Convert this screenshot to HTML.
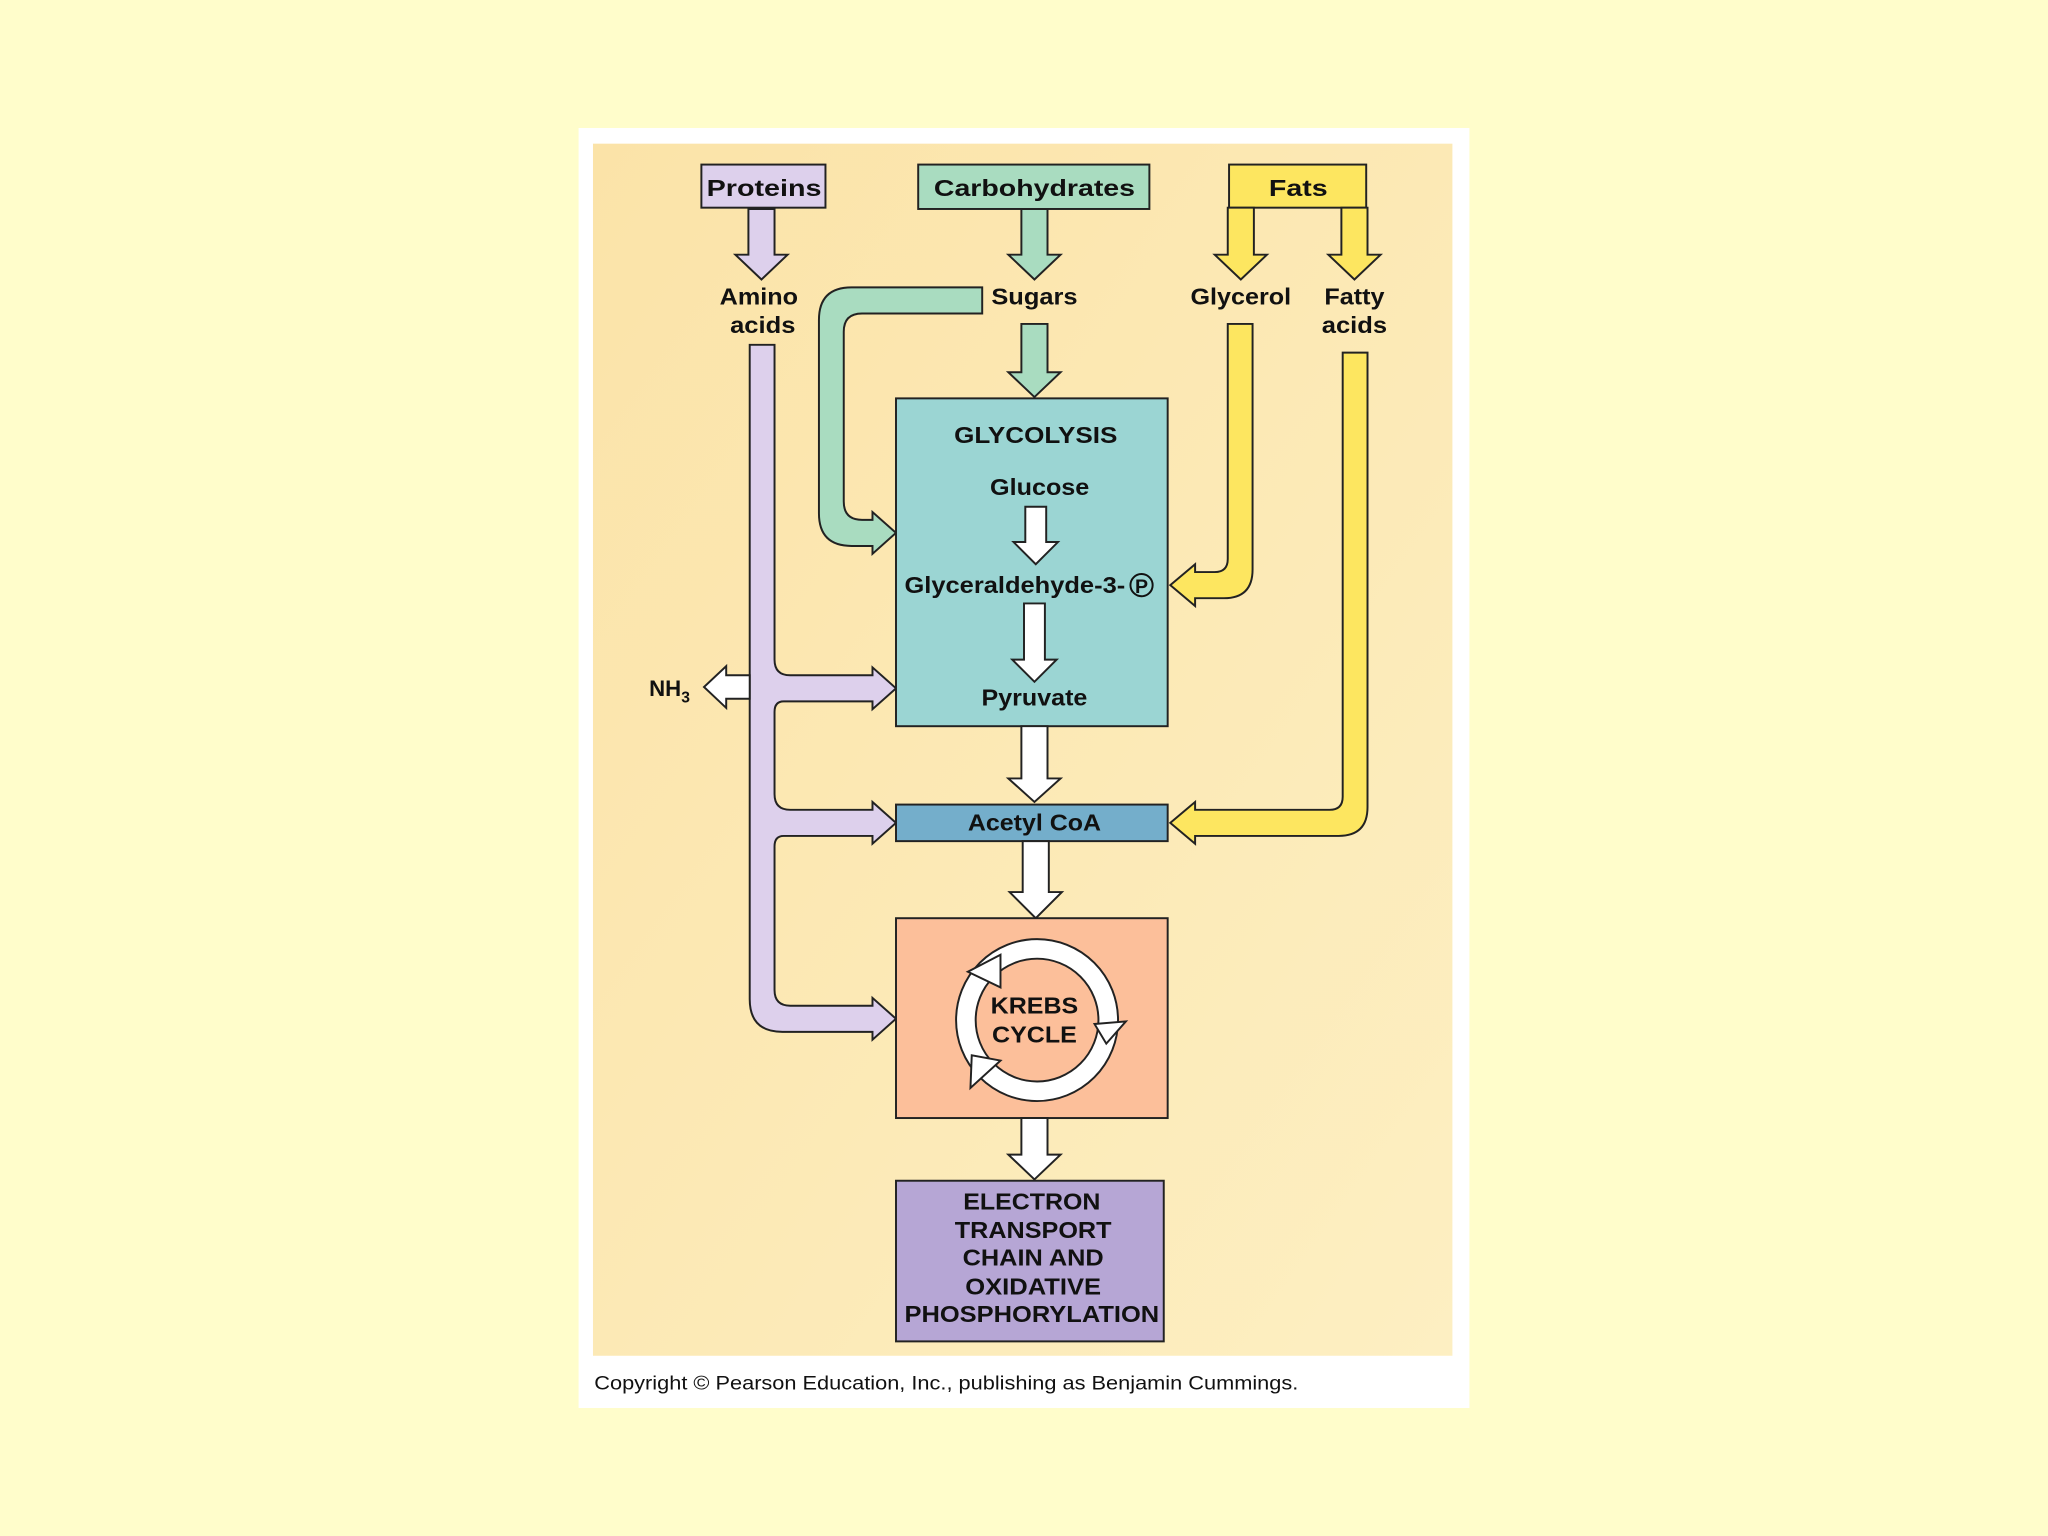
<!DOCTYPE html>
<html><head><meta charset="utf-8"><style>
html,body{margin:0;padding:0;background:#fffdcb;}
svg{display:block;}
text{font-family:"Liberation Sans",Arial,sans-serif;font-weight:bold;fill:#111;}
</style></head><body>
<svg width="2048" height="1536" viewBox="0 0 1568 1176" xmlns="http://www.w3.org/2000/svg">
<defs>
<linearGradient id="tan" x1="0" y1="0" x2="1" y2="1">
<stop offset="0" stop-color="#fbe3a8"/><stop offset="1" stop-color="#fdefc2"/>
</linearGradient>
</defs>
<rect width="1568" height="1176" fill="#fffdcb"/>
<rect x="443" y="98" width="682" height="980" fill="#ffffff"/>
<rect x="454" y="110" width="658" height="928" fill="url(#tan)"/>

<g stroke="#222" stroke-width="1.5" stroke-linejoin="miter">
<!-- source boxes -->
<rect x="537" y="126" width="95" height="33" fill="#ddd0ec"/>
<rect x="703" y="126" width="177" height="34" fill="#a9dcc0"/>
<rect x="941" y="126" width="105" height="33" fill="#fde660"/>

<!-- down arrows from sources -->
<path d="M573 160 L573 195 L563 195 L583 214 L603 195 L593 195 L593 160 Z" fill="#ddd0ec"/>
<path d="M782 160 L782 195 L772 195 L792 214 L812 195 L802 195 L802 160 Z" fill="#a9dcc0"/>
<path d="M940 159 L940 195 L930 195 L950 214 L970 195 L960 195 L960 159 Z" fill="#fde660"/>
<path d="M1027 159 L1027 195 L1017 195 L1037 214 L1057 195 L1047 195 L1047 159 Z" fill="#fde660"/>
<path d="M782 248 L782 285 L772 285 L792 304 L812 285 L802 285 L802 248 Z" fill="#a9dcc0"/>

<!-- green bent arrow -->
<path d="M752 220 L652 220 Q627 220 627 245 L627 393 Q627 418 652 418 L668 418 L668 424 L686 408 L668 392 L668 398 L660 398 Q646 398 646 384 L646 254 Q646 240 660 240 L752 240 Z" fill="#a9dcc0"/>

<!-- glycerol arrow -->
<path d="M940 248 L940 428 Q940 438 930 438 L915 438 L915 432 L896 448 L915 464 L915 458 L937 458 Q959 458 959 436 L959 248 Z" fill="#fde660"/>
<!-- fatty acids arrow -->
<path d="M1028 270 L1028 610 Q1028 620 1018 620 L915 620 L915 614 L896 630 L915 646 L915 640 L1025 640 Q1047 640 1047 618 L1047 270 Z" fill="#fde660"/>

<!-- purple amino acids arrow -->
<path d="M574 264 L593 264 L593 505 Q593 517 605 517 L668 517 L668 511 L686 527 L668 543 L668 537 L600 537 Q593 537 593 545 L593 608 Q593 620 605 620 L668 620 L668 614 L686 630 L668 646 L668 640 L600 640 Q593 640 593 648 L593 758 Q593 770 605 770 L668 770 L668 764 L686 780 L668 796 L668 790 L599 790 Q574 790 574 765 Z" fill="#ddd0ec"/>
<!-- NH3 arrow -->
<path d="M574 517 L556 517 L556 510 L539 526 L556 542 L556 535 L574 535 Z" fill="#ffffff"/>

<!-- glycolysis box -->
<rect x="686" y="305" width="208" height="251" fill="#9bd5d3"/>
<path d="M785 388 L785 415 L776 415 L793 432 L810 415 L801 415 L801 388 Z" fill="#ffffff"/>
<path d="M784 462 L784 505 L775 505 L792 522 L809 505 L800 505 L800 462 Z" fill="#ffffff"/>

<!-- pyruvate to acetyl -->
<path d="M782 556 L782 596 L772 596 L792 614 L812 596 L802 596 L802 556 Z" fill="#ffffff"/>
<rect x="686" y="616" width="208" height="28" fill="#74aecb"/>
<path d="M783 644 L783 683 L773 683 L793 703 L813 683 L803 683 L803 644 Z" fill="#ffffff"/>

<!-- krebs -->
<rect x="686" y="703" width="208" height="153" fill="#fcbf9a"/>
<circle cx="794" cy="781" r="62" fill="#ffffff"/>
<circle cx="794" cy="781" r="47" fill="#fcbf9a"/>
<path d="M741 744 L766 731 L766 756 Z" fill="#ffffff"/>
<path d="M838 784 L862 782 L847 799 Z" fill="#ffffff"/>
<path d="M743 833 L744 808 L766 812 Z" fill="#ffffff"/>

<path d="M782 856 L782 884 L772 884 L792 903 L812 884 L802 884 L802 856 Z" fill="#ffffff"/>
<rect x="686" y="904" width="205" height="123" fill="#b6a6d5"/>
</g>

<!-- labels -->
<g font-size="18" text-anchor="middle">
<text x="585" y="150" textLength="88" lengthAdjust="spacingAndGlyphs">Proteins</text>
<text x="792" y="150" textLength="154" lengthAdjust="spacingAndGlyphs">Carbohydrates</text>
<text x="994" y="150" textLength="45" lengthAdjust="spacingAndGlyphs">Fats</text>
<text x="581" y="233" textLength="60" lengthAdjust="spacingAndGlyphs">Amino</text>
<text x="584" y="255" textLength="50" lengthAdjust="spacingAndGlyphs">acids</text>
<text x="792" y="233" textLength="66" lengthAdjust="spacingAndGlyphs">Sugars</text>
<text x="950" y="233" textLength="77" lengthAdjust="spacingAndGlyphs">Glycerol</text>
<text x="1037" y="233" textLength="46" lengthAdjust="spacingAndGlyphs">Fatty</text>
<text x="1037" y="255" textLength="50" lengthAdjust="spacingAndGlyphs">acids</text>
<text x="793" y="339" textLength="125" lengthAdjust="spacingAndGlyphs">GLYCOLYSIS</text>
<text x="796" y="379" textLength="76" lengthAdjust="spacingAndGlyphs">Glucose</text>
<text x="777" y="454" textLength="169" lengthAdjust="spacingAndGlyphs">Glyceraldehyde-3-</text>
<text x="874" y="454" font-size="15">P</text>
<text x="792" y="540" textLength="81" lengthAdjust="spacingAndGlyphs">Pyruvate</text>
<text x="792" y="636" textLength="102" lengthAdjust="spacingAndGlyphs">Acetyl CoA</text>
<text x="792" y="776" textLength="67" lengthAdjust="spacingAndGlyphs">KREBS</text>
<text x="792" y="798" textLength="65" lengthAdjust="spacingAndGlyphs">CYCLE</text>
<text x="790" y="926" textLength="105" lengthAdjust="spacingAndGlyphs">ELECTRON</text>
<text x="791" y="948" textLength="120" lengthAdjust="spacingAndGlyphs">TRANSPORT</text>
<text x="791" y="969" textLength="108" lengthAdjust="spacingAndGlyphs">CHAIN AND</text>
<text x="791" y="991" textLength="104" lengthAdjust="spacingAndGlyphs">OXIDATIVE</text>
<text x="790" y="1012" textLength="195" lengthAdjust="spacingAndGlyphs">PHOSPHORYLATION</text>
</g>
<circle cx="874" cy="448" r="8.5" fill="none" stroke="#111" stroke-width="1.5"/>
<text x="497" y="533" font-size="17">NH<tspan font-size="12" dy="5">3</tspan></text>
<text x="455" y="1064" font-size="15" font-weight="normal" style="font-weight:normal" textLength="539" lengthAdjust="spacingAndGlyphs">Copyright © Pearson Education, Inc., publishing as Benjamin Cummings.</text>
</svg>
</body></html>
